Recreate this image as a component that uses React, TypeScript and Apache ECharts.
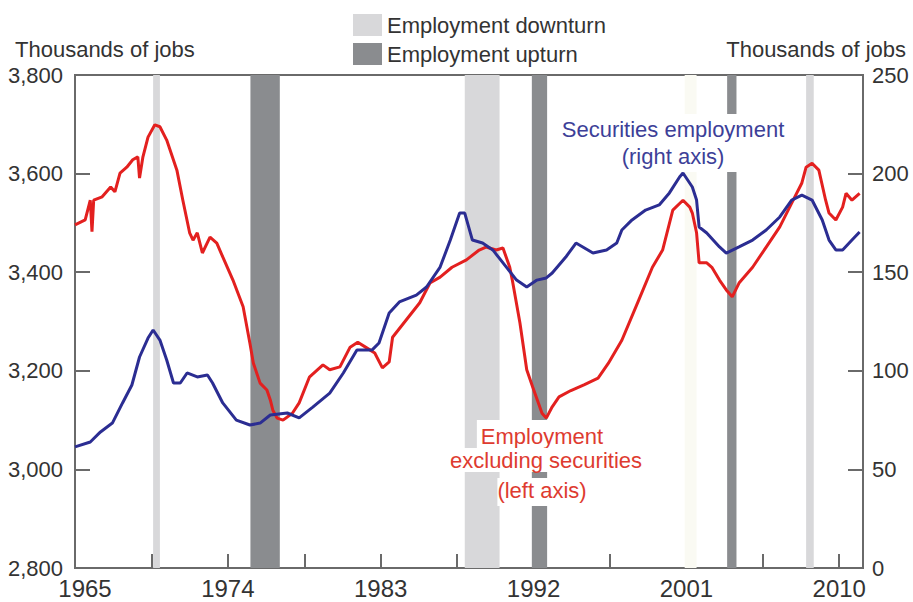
import React, { useEffect, useRef } from "react";
import * as echarts from "echarts";

const FONT = "'Liberation Sans', Arial, Helvetica, sans-serif";

// Employment excluding securities (left axis, thousands of jobs)
const exSecYears = [
  1965.0, 1965.6, 1965.9, 1966.0, 1966.1, 1966.6, 1967.1, 1967.35, 1967.65, 1968.05,
  1968.4, 1968.7, 1968.8, 1969.0, 1969.3, 1969.7, 1970.0, 1970.4, 1971.0, 1971.35,
  1971.75, 1971.95, 1972.2, 1972.5, 1972.95, 1973.35, 1973.7, 1974.3, 1974.9, 1975.3,
  1975.5, 1975.9, 1976.3, 1976.5, 1976.65, 1976.9, 1977.25, 1977.8, 1978.2, 1978.8,
  1979.6, 1980.0, 1980.6, 1981.2, 1981.65, 1982.2, 1982.65, 1983.1, 1983.5, 1983.7,
  1984.5, 1985.3, 1985.9, 1986.5, 1987.2, 1988.05, 1988.8, 1989.2, 1989.8, 1990.2,
  1990.6, 1990.75, 1991.2, 1991.6, 1991.95, 1992.5, 1992.75, 1993.1, 1993.5, 1994.2,
  1995.0, 1995.8, 1996.4, 1997.2, 1998.2, 1999.0, 1999.6, 2000.2, 2000.8, 2001.2,
  2001.35, 2001.6, 2001.75, 2002.2, 2002.5, 2002.95, 2003.35, 2003.7, 2004.1, 2004.9,
  2005.7, 2006.5, 2007.2, 2007.8, 2008.05, 2008.4, 2008.8, 2009.2, 2009.4, 2009.8,
  2010.2, 2010.4, 2010.75, 2011.2,
];
const exSecValues = [
  3496, 3506, 3546, 3482, 3546, 3553, 3573, 3563, 3601, 3613,
  3628, 3634, 3591, 3634, 3674, 3699, 3695, 3668, 3607, 3546,
  3480, 3465, 3480, 3439, 3471, 3459, 3431, 3384, 3330, 3256,
  3216, 3175, 3161, 3141, 3120, 3104, 3100, 3114, 3135, 3187,
  3212, 3202, 3208, 3248, 3258, 3246, 3236, 3206, 3218, 3268,
  3303, 3338, 3378, 3390, 3410, 3425, 3445, 3451, 3445, 3449,
  3410, 3384, 3297, 3202, 3167, 3114, 3104, 3127, 3147, 3160,
  3172, 3185, 3215, 3262, 3344, 3410, 3445, 3526, 3546, 3532,
  3520, 3480, 3419, 3419, 3410, 3384, 3364, 3350, 3378, 3410,
  3451, 3492, 3540, 3581, 3613, 3621, 3607, 3546, 3520, 3506,
  3532, 3560, 3546, 3560,
];

// Securities employment (right axis, thousands of jobs)
const secYears = [
  1965.0, 1965.9, 1966.5, 1967.2, 1967.8, 1968.35, 1968.8, 1969.3, 1969.6, 1970.0,
  1970.4, 1970.8, 1971.2, 1971.6, 1972.2, 1972.8, 1973.1, 1973.7, 1974.5, 1975.3,
  1975.9, 1976.5, 1977.5, 1978.2, 1979.0, 1980.0, 1980.8, 1981.6, 1982.5, 1982.9,
  1983.5, 1984.1, 1985.1, 1985.7, 1986.5, 1987.1, 1987.65, 1987.95, 1988.4, 1989.0,
  1989.6, 1990.4, 1991.0, 1991.6, 1992.2, 1992.75, 1993.1, 1993.9, 1994.5, 1994.9,
  1995.5, 1996.3, 1996.9, 1997.2, 1997.8, 1998.6, 1999.4, 2000.0, 2000.6, 2000.8,
  2001.35, 2001.6, 2001.75, 2002.2, 2002.95, 2003.35, 2004.1, 2004.9, 2005.7, 2006.5,
  2007.2, 2007.8, 2008.4, 2009.0, 2009.4, 2009.8, 2010.2, 2010.75, 2011.2,
];
const secValues = [
  61.4, 63.9, 69.0, 73.5, 83.7, 92.8, 107.0, 116.6, 120.7, 115.6,
  105.5, 93.8, 93.8, 98.9, 96.9, 97.9, 93.8, 83.7, 75.0, 72.5,
  73.5, 77.6, 78.6, 76.1, 81.6, 88.7, 98.9, 110.6, 110.6, 114.1,
  129.3, 134.9, 138.4, 142.5, 152.6, 166.3, 180.0, 180.0, 166.3, 164.8,
  161.3, 152.6, 146.0, 142.5, 146.0, 147.1, 149.6, 157.7, 164.8, 162.8,
  159.7, 161.3, 164.8, 171.4, 176.5, 181.5, 184.1, 190.2, 198.3, 200.3,
  193.2, 186.6, 172.9, 169.9, 162.8, 159.7, 162.8, 166.3, 171.4, 178.0,
  186.6, 189.1, 186.6, 176.5, 166.3, 161.3, 161.3, 166.3, 170.4,
];

// Shaded periods [start, end] in years
const downturnBands = [
  [1969.6, 1970.0],
  [1987.95, 1990.0],
  [2008.05, 2008.5],
];
const faintBands = [[2000.9, 2001.6]];
const upturnBands = [
  [1975.33, 1977.06],
  [1991.9, 1992.8],
  [2003.4, 2003.95],
];

const xLabelYears = [1965, 1974, 1983, 1992, 2001, 2010];
const leftTicks = [2800, 3000, 3200, 3400, 3600, 3800];
const rightTicks = [0, 50, 100, 150, 200, 250];

const AXIS = "#6a6a6a";
const TEXT = "#333333";

export default function App() {
  const ref = useRef<HTMLDivElement>(null);
  useEffect(() => {
    if (!ref.current) return;
    const chart = echarts.init(ref.current, null, { renderer: "svg" });
    const pairs = (xs: number[], ys: number[]) => xs.map((x, i) => [x, ys[i]]);
    const bandData = (bands: number[][]) => bands.map(([a, b]) => [{ xAxis: a }, { xAxis: b }]);
    const option = {
      animation: false,
      textStyle: { fontFamily: FONT },
      legend: {
        orient: "vertical",
        left: 348,
        top: 9,
        itemWidth: 29,
        itemHeight: 22,
        itemGap: 7,
        icon: "rect",
        selectedMode: false,
        textStyle: { fontSize: 22, color: TEXT, fontFamily: FONT },
        data: ["Employment downturn", "Employment upturn"],
      },
      grid: {
        left: 75,
        right: 50,
        top: 75,
        bottom: 34,
        show: true,
        borderColor: AXIS,
        borderWidth: 2,
      },
      xAxis: {
        type: "value",
        min: 1965,
        max: 2011.4,
        interval: 4.5,
        splitLine: { show: false },
        axisLine: { show: true, lineStyle: { color: AXIS, width: 2 } },
        axisTick: { show: true, inside: true, length: 14, lineStyle: { color: AXIS, width: 2 } },
        axisLabel: {
          fontSize: 24,
          color: TEXT,
          margin: 8,
          fontFamily: FONT,
          showMaxLabel: false,
          formatter: (v: number) => {
            const y = Math.round(v * 10) / 10;
            if (xLabelYears.indexOf(y) < 0) return "";
            return y === xLabelYears[0] ? "{first|" + y + "}" : String(y);
          },
          rich: {
            first: { fontSize: 24, color: TEXT, fontFamily: FONT, padding: [0, 0, 0, 20] },
          },
        },
      },
      yAxis: [
        {
          type: "value",
          position: "left",
          min: leftTicks[0],
          max: leftTicks[leftTicks.length - 1],
          interval: 200,
          splitLine: { show: false },
          axisLine: { show: true, lineStyle: { color: AXIS, width: 2 } },
          axisTick: { show: true, inside: true, length: 15, lineStyle: { color: AXIS, width: 2 } },
          axisLabel: {
            fontSize: 22,
            color: TEXT,
            margin: 12,
            fontFamily: FONT,
            formatter: (v: number) => v.toLocaleString("en-US"),
          },
        },
        {
          type: "value",
          position: "right",
          min: rightTicks[0],
          max: rightTicks[rightTicks.length - 1],
          interval: 50,
          splitLine: { show: false },
          axisLine: { show: true, lineStyle: { color: AXIS, width: 2 } },
          axisTick: { show: true, inside: true, length: 15, lineStyle: { color: AXIS, width: 2 } },
          axisLabel: { fontSize: 22, color: TEXT, margin: 9, fontFamily: FONT },
        },
      ],
      series: [
        {
          name: "Employment downturn",
          type: "line",
          data: [],
          z: 1,
          color: "#d8d8da",
          itemStyle: { color: "#d8d8da" },
          markArea: {
            silent: true,
            itemStyle: { color: "#d8d8da" },
            data: bandData(downturnBands),
          },
        },
        {
          name: "Faint band",
          type: "line",
          data: [],
          z: 1,
          markArea: {
            silent: true,
            itemStyle: { color: "#fafaf3" },
            data: bandData(faintBands),
          },
        },
        {
          name: "Employment upturn",
          type: "line",
          data: [],
          z: 1,
          color: "#8a8c8f",
          itemStyle: { color: "#8a8c8f" },
          markArea: {
            silent: true,
            itemStyle: { color: "#8a8c8f" },
            data: bandData(upturnBands),
          },
        },
        {
          name: "Employment excluding securities",
          type: "line",
          yAxisIndex: 0,
          data: pairs(exSecYears, exSecValues),
          showSymbol: false,
          symbol: "none",
          z: 3,
          lineStyle: { color: "#e3201f", width: 3 },
        },
        {
          name: "Securities employment",
          type: "line",
          yAxisIndex: 1,
          data: pairs(secYears, secValues),
          showSymbol: false,
          symbol: "none",
          z: 4,
          lineStyle: { color: "#2b2d92", width: 3 },
        },
      ],
      graphic: [
        {
          type: "text",
          left: 15,
          top: 38,
          z: 10,
          style: { text: "Thousands of jobs", fontSize: 22, fill: TEXT, fontFamily: FONT },
        },
        {
          type: "text",
          right: 7,
          top: 38,
          z: 10,
          style: { text: "Thousands of jobs", fontSize: 22, fill: TEXT, fontFamily: FONT },
        },
        {
          type: "text",
          x: 673,
          y: 114,
          z: 10,
          style: {
            text: "Securities employment\n(right axis)",
            fontSize: 22,
            lineHeight: 27,
            fill: "#3d3f98",
            fontFamily: FONT,
            align: "center",
            backgroundColor: "#ffffff",
            padding: [2, 5, 2, 5],
          },
        },
        {
          type: "text",
          x: 542,
          y: 420,
          z: 10,
          style: {
            text: "Employment",
            fontSize: 22,
            lineHeight: 24,
            fill: "#de3b30",
            fontFamily: FONT,
            align: "center",
            backgroundColor: "#ffffff",
            padding: [4, 4, 0, 4],
          },
        },
        {
          type: "text",
          x: 546,
          y: 448,
          z: 10,
          style: {
            text: "excluding securities",
            fontSize: 22,
            lineHeight: 24,
            fill: "#de3b30",
            fontFamily: FONT,
            align: "center",
            backgroundColor: "#ffffff",
            padding: [0, 4, 0, 4],
          },
        },
        {
          type: "text",
          x: 542,
          y: 478,
          z: 10,
          style: {
            text: "(left axis)",
            fontSize: 22,
            lineHeight: 24,
            fill: "#de3b30",
            fontFamily: FONT,
            align: "center",
            backgroundColor: "#ffffff",
            padding: [0, 0, 4, 0],
          },
        },
      ],
    };
    chart.setOption(option as any);
    return () => chart.dispose();
  }, []);
  return (
    <div
      ref={ref}
      style={{ position: "absolute", left: 0, top: 0, width: 913, height: 602, background: "#fff" }}
    />
  );
}
